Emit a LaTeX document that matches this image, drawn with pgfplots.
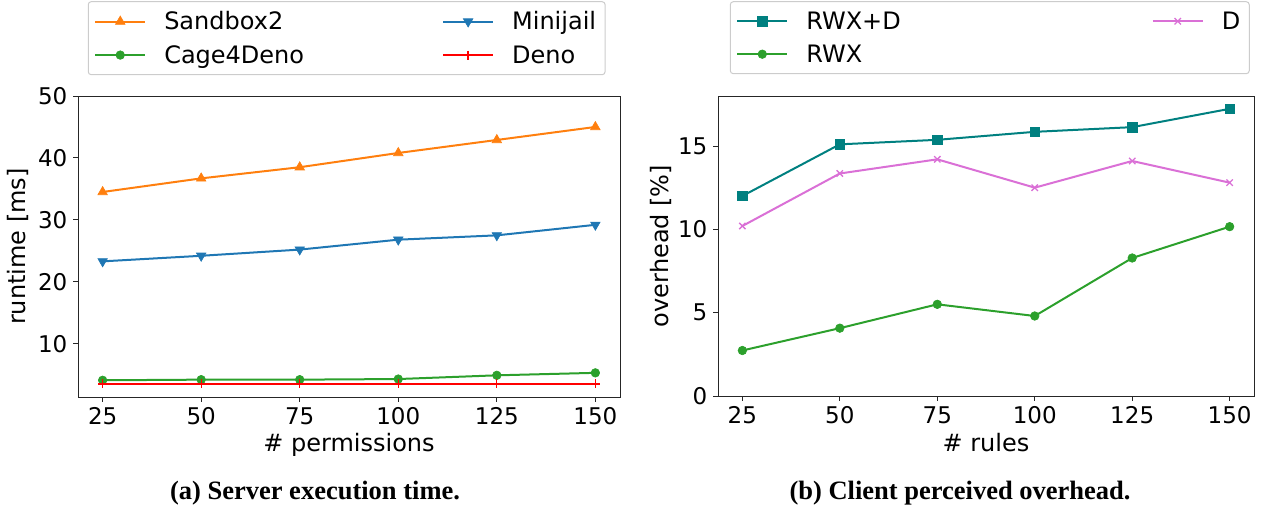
\documentclass[border=0pt]{standalone}
\usepackage{fontspec}
\setmainfont{DejaVu Sans}
\newfontfamily\capfont{Liberation Serif}
\usepackage{pgfplots}
\pgfplotsset{compat=1.18}
\definecolor{mplorange}{HTML}{FF7F0E}
\definecolor{mplblue}{HTML}{1F77B4}
\definecolor{mplgreen}{HTML}{2CA02C}
\definecolor{mplred}{HTML}{FF0000}
\definecolor{mplteal}{HTML}{008080}
\definecolor{mplorchid}{HTML}{DA70D6}
\pgfplotsset{
  common/.style={
    scale only axis,
    font=\fontsize{23}{27}\selectfont,
    /pgf/number format/assume math mode=true,
    tick align=outside, tick pos=left, major tick length=5pt,
    xtick={25,50,75,100,125,150}, xmin=18.75, xmax=156.25,
    axis line style={line width=0.9pt, black!85},
    every tick/.style={line width=0.9pt, black!85},
    xticklabel style={inner sep=5.5pt},
    yticklabel style={inner sep=5.5pt},
    label style={font=\fontsize{24}{28}\selectfont},
    every axis plot/.append style={line width=2pt},
    legend columns=2,
    legend cell align=left,
    legend style={draw=black!20, fill=white, rounded corners=3pt, line width=1pt,
      anchor=north west, font=\fontsize{24}{28}\selectfont,
      row sep=8pt, inner xsep=6pt, inner ysep=7pt,
      nodes={inner xsep=3pt, inner ysep=3pt},
      /tikz/column 1/.style={column sep=15pt},
      /tikz/column 3/.style={column sep=15pt}},
    legend image code/.code={\draw[mark repeat=2,mark phase=2] plot coordinates {(0pt,0pt) (25pt,0pt) (50pt,0pt)};},
  }
}
\begin{document}
\begin{tikzpicture}
\useasboundingbox (0,0) rectangle (1271pt,508pt);
% ---------------- left panel ----------------
\begin{axis}[common,
  at={(78pt,111pt)}, anchor=south west,
  width=542pt, height=301pt,
  ymin=1.4, ymax=50, ytick={10,20,30,40,50},
  xlabel={\# permissions}, ylabel={runtime [ms]},
  x label style={at={(axis description cs:0.5,0)}, anchor=base, yshift=-55pt},
  y label style={at={(axis description cs:-0.096,0.5)}, rotate=0, anchor=base},
  legend style={at={(axis description cs:0.018,1.315)},
    /tikz/column 2/.style={column sep=135pt}},
]
\addplot[mplorange, mark=triangle*, mark size=5.5pt, mark options={line width=0.6pt, sharp corners}]
  coordinates {(25,34.5) (50,36.7) (75,38.5) (100,40.8) (125,42.9) (150,45.0)};
\addlegendentry{Sandbox2}
\addplot[mplblue, mark=triangle*, mark size=5.5pt, mark options={rotate=180, line width=0.6pt, sharp corners}]
  coordinates {(25,23.3) (50,24.2) (75,25.2) (100,26.8) (125,27.5) (150,29.2)};
\addlegendentry{Minijail}
\addplot[mplgreen, mark=*, mark size=4.3pt, mark options={line width=0.6pt}]
  coordinates {(25,4.1) (50,4.2) (75,4.2) (100,4.3) (125,4.9) (150,5.3)};
\addlegendentry{Cage4Deno}
\addplot[mplred, mark=+, mark size=4.5pt, mark options={line width=1.3pt}]
  coordinates {(25,3.5) (50,3.5) (75,3.5) (100,3.5) (125,3.5) (150,3.5)};
\addlegendentry{Deno}
\end{axis}
% ---------------- right panel ----------------
\begin{axis}[common,
  at={(718pt,112pt)}, anchor=south west,
  width=536pt, height=300pt,
  ymin=0, ymax=18, ytick={0,5,10,15},
  xlabel={\# rules}, ylabel={overhead [\%]},
  x label style={at={(axis description cs:0.5,0)}, anchor=base, yshift=-56pt},
  y label style={at={(axis description cs:-0.093,0.5)}, rotate=0, anchor=base},
  legend style={at={(axis description cs:0.022,1.316)},
    /tikz/column 2/.style={column sep=248pt}},
]
\addplot[mplteal, mark=square*, mark size=4.8pt, mark options={line width=0.6pt, sharp corners}]
  coordinates {(25,12.0) (50,15.1) (75,15.37) (100,15.85) (125,16.13) (150,17.23)};
\addlegendentry{RWX+D}
\addplot[mplorchid, mark=x, mark size=4.5pt, mark options={line width=1.3pt}]
  coordinates {(25,10.2) (50,13.35) (75,14.2) (100,12.5) (125,14.1) (150,12.8)};
\addlegendentry{D}
\addplot[mplgreen, mark=*, mark size=4.3pt, mark options={line width=0.6pt}]
  coordinates {(25,2.73) (50,4.07) (75,5.5) (100,4.8) (125,8.28) (150,10.16)};
\addlegendentry{RWX}
\end{axis}
% captions
\node[anchor=base, font=\capfont\bfseries\fontsize{26.5}{30}\selectfont] at (315pt,8pt) {(a) Server execution time.};
\node[anchor=base, font=\capfont\bfseries\fontsize{26.5}{30}\selectfont] at (960pt,8pt) {(b) Client perceived overhead.};
\end{tikzpicture}
\end{document}
